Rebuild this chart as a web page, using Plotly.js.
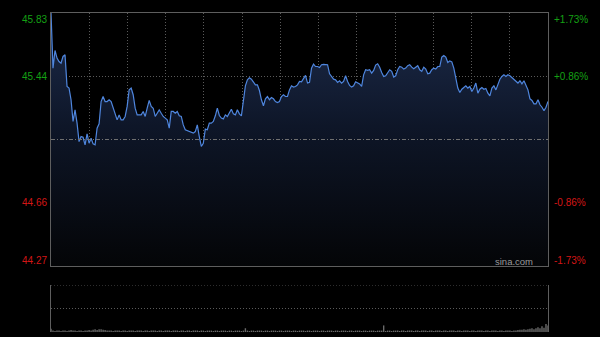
<!DOCTYPE html>
<html><head><meta charset="utf-8">
<script src="https://cdn.plot.ly/plotly-3.0.1.min.js"></script>
<style>html,body{margin:0;padding:0;background:#000;} #chart{width:600px;height:337px;}</style>
</head><body><div id="chart"></div>
<script>
// ---- data ----
const prevClose = 45.05;
const priceTicks = [45.83, 45.44, 44.66, 44.27];
const priceLabels = ['45.83', '45.44', '44.66', '44.27'];
const pctLabels = ['+1.73%', '+0.86%', '-0.86%', '-1.73%'];
const gridMinutes = [30, 60, 90, 120, 150, 180, 210, 240, 270, 300, 330, 360];
const sessionMinutes = 390;
const watermark = 'sina.com';

const prices = [
  45.830, 45.490, 45.599, 45.552, 45.531, 45.521, 45.562, 45.572, 45.377, 45.367,
  45.295, 45.161, 45.233, 45.151, 45.037, 45.068, 45.064, 45.017, 45.085, 45.027,
  45.058, 45.023, 45.017, 45.120, 45.147, 45.284, 45.315, 45.284, 45.284, 45.295,
  45.284, 45.243, 45.212, 45.171, 45.202, 45.171, 45.171, 45.192, 45.254, 45.356,
  45.367, 45.326, 45.243, 45.202, 45.202, 45.202, 45.223, 45.192, 45.243, 45.291,
  45.254, 45.243, 45.192, 45.212, 45.233, 45.212, 45.192, 45.182, 45.171, 45.120,
  45.223, 45.223, 45.212, 45.223, 45.196, 45.192, 45.140, 45.110, 45.105, 45.099,
  45.093, 45.089, 45.099, 45.140, 45.068,
  45.007, 45.027, 45.114, 45.110, 45.151, 45.151, 45.161, 45.196, 45.243, 45.198,
  45.182, 45.177, 45.202, 45.192, 45.217, 45.237, 45.208, 45.202, 45.233, 45.208,
  45.196, 45.274, 45.381, 45.418, 45.431, 45.422, 45.402, 45.387, 45.387, 45.352,
  45.295, 45.258, 45.301, 45.315, 45.295, 45.309, 45.301, 45.284, 45.278, 45.284,
  45.315, 45.326, 45.315, 45.315, 45.356, 45.381, 45.373, 45.377, 45.387, 45.408,
  45.406, 45.422, 45.445, 45.398, 45.402, 45.490, 45.515, 45.500, 45.500, 45.494,
  45.511, 45.513, 45.511, 45.511, 45.455, 45.435, 45.422, 45.418, 45.402, 45.412,
  45.398, 45.408, 45.443, 45.408, 45.383, 45.373, 45.381, 45.406, 45.398, 45.393,
  45.377, 45.449, 45.480, 45.476, 45.480, 45.459, 45.476, 45.509, 45.517, 45.496,
  45.463, 45.439, 45.443, 45.459, 45.480, 45.470, 45.435, 45.443, 45.480, 45.500,
  45.496, 45.484, 45.490, 45.505, 45.511, 45.496, 45.486, 45.496, 45.505, 45.480,
  45.470, 45.496, 45.484, 45.455, 45.459, 45.480, 45.490, 45.484, 45.500, 45.500,
  45.558, 45.568, 45.558, 45.525, 45.535, 45.529, 45.490, 45.428, 45.367, 45.340,
  45.360, 45.371, 45.381, 45.367, 45.377, 45.346, 45.367, 45.398, 45.336, 45.360,
  45.371, 45.360, 45.365, 45.336, 45.319, 45.367, 45.381, 45.356, 45.387, 45.422,
  45.439, 45.449, 45.439, 45.449, 45.443, 45.431, 45.418, 45.410, 45.398, 45.412,
  45.393, 45.412, 45.381, 45.356, 45.301, 45.291, 45.270, 45.270, 45.295, 45.264,
  45.249, 45.227, 45.249, 45.284
];

const volumes = [
  7,3,2,3,3,2,3,3,2,3,4,3,3,2,3,3,2,3,3,4,
  3,5,6,4,6,6,5,4,3,3,3,2,3,3,3,2,3,3,2,3,
  3,3,2,3,3,3,2,3,3,2,3,3,3,2,3,3,2,3,3,3,
  2,3,3,3,2,3,3,2,3,3,2,3,3,3,2,3,3,2,3,3,
  3,2,3,3,2,3,3,3,2,3,3,2,3,3,3,2,3,8,3,2,
  3,3,2,3,3,3,2,3,3,2,3,3,3,2,3,3,2,3,3,3,
  2,3,3,2,3,3,3,2,3,3,2,3,3,3,2,3,3,2,3,3,
  3,2,3,3,2,3,3,3,2,3,3,2,3,3,3,2,3,3,2,3,
  3,3,2,3,3,3,14,2,3,3,2,3,3,3,2,3,3,2,3,3,
  3,2,3,3,2,3,3,3,2,3,3,2,3,3,3,2,3,3,2,3,
  3,3,2,3,3,2,3,3,3,2,3,3,2,3,3,3,2,3,3,2,
  3,3,3,2,3,3,2,3,3,3,2,3,3,4,5,5,6,5,6,7,
  8,6,8,10,8,12,9,17,14
];

// time stamps (minutes since the open) for each sample
const times = prices.map((_, i) => i * sessionMinutes / (prices.length - 1));

const UP = '#14a014', DOWN = '#d41616';
const FONT = 'Liberation Sans, Arial, sans-serif';

const traces = [
  {
    type: 'scatter', mode: 'lines', x: times, y: prices, xaxis: 'x', yaxis: 'y',
    line: {color: '#4f86de', width: 1.2},
    fill: 'tozeroy',
    fillgradient: {type: 'vertical', start: priceTicks[3], stop: priceTicks[0],
      colorscale: [[0, '#040507'], [0.55, '#0e1628'], [1, '#1d2c4c']]},
    hoverinfo: 'skip'
  },
  {
    type: 'bar', x: times.slice(0, volumes.length), y: volumes, xaxis: 'x2', yaxis: 'y2',
    marker: {color: '#6a6a6a', line: {width: 0}}, hoverinfo: 'skip'
  }
];

const annotations = [];
priceTicks.forEach((v, i) => {
  const col = v > prevClose ? UP : DOWN;
  const ys = i === 0 ? -6 : (i === priceTicks.length - 1 ? 6 : 0);
  annotations.push({xref: 'paper', yref: 'y', x: 0, y: v, xanchor: 'right', yanchor: 'middle',
    xshift: -2, yshift: ys, text: priceLabels[i], showarrow: false,
    font: {family: FONT, size: 10, color: col}});
  annotations.push({xref: 'paper', yref: 'y', x: 1, y: v, xanchor: 'left', yanchor: 'middle',
    xshift: 4, yshift: ys, text: pctLabels[i], showarrow: false,
    font: {family: FONT, size: 10, color: col}});
});
annotations.push({xref: 'paper', yref: 'y', x: 1, y: priceTicks[3], xanchor: 'right', yanchor: 'bottom',
  xshift: -13, yshift: -3, text: watermark, showarrow: false,
  font: {family: FONT, size: 9.5, color: '#9a9a9a'}});

const GRID = '#5a5a5a', BORDER = '#5e5e5e', FINE = '1px,2px';
const layout = {
  width: 600, height: 337,
  paper_bgcolor: '#000', plot_bgcolor: '#000',
  margin: {l: 51, r: 52, t: 13, b: 5, pad: 0},
  showlegend: false,
  xaxis: {domain: [0, 1], anchor: 'y', range: [0, sessionMinutes], tickvals: gridMinutes,
    showticklabels: false, ticks: '', showgrid: true, gridcolor: GRID, griddash: FINE, gridwidth: 1,
    showline: true, mirror: true, linecolor: BORDER, linewidth: 1, zeroline: false, fixedrange: true},
  yaxis: {domain: [0.2069, 1], anchor: 'x', range: [priceTicks[3], priceTicks[0]],
    tickvals: [priceTicks[1], priceTicks[2]], showticklabels: false, ticks: '',
    showgrid: true, gridcolor: GRID, griddash: FINE, gridwidth: 1,
    showline: true, mirror: true, linecolor: BORDER, linewidth: 1, zeroline: false, fixedrange: true},
  xaxis2: {domain: [0, 1], anchor: 'y2', range: [0, sessionMinutes], showgrid: false,
    showticklabels: false, ticks: '', showline: false, zeroline: false, fixedrange: true},
  yaxis2: {domain: [0, 0.1473], anchor: 'x2', range: [0, 100], showgrid: false,
    showticklabels: false, ticks: '', showline: true, mirror: true, linecolor: BORDER,
    linewidth: 1, zeroline: false, fixedrange: true},
  bargap: 0.3,
  shapes: [
    {type: 'line', xref: 'x', yref: 'y', x0: 0, x1: sessionMinutes, y0: prevClose, y1: prevClose,
      line: {color: '#707070', width: 1, dash: '4px,2px,1px,2px'}},
    {type: 'line', xref: 'x2', yref: 'y2', x0: 0, x1: sessionMinutes, y0: 100, y1: 100,
      line: {color: GRID, width: 1, dash: FINE}},
    {type: 'line', xref: 'x2', yref: 'y2', x0: 0, x1: sessionMinutes, y0: 50, y1: 50,
      line: {color: GRID, width: 1, dash: FINE}}
  ],
  annotations: annotations
};

Plotly.newPlot('chart', traces, layout, {displayModeBar: false, staticPlot: true});
</script>
</body></html>
